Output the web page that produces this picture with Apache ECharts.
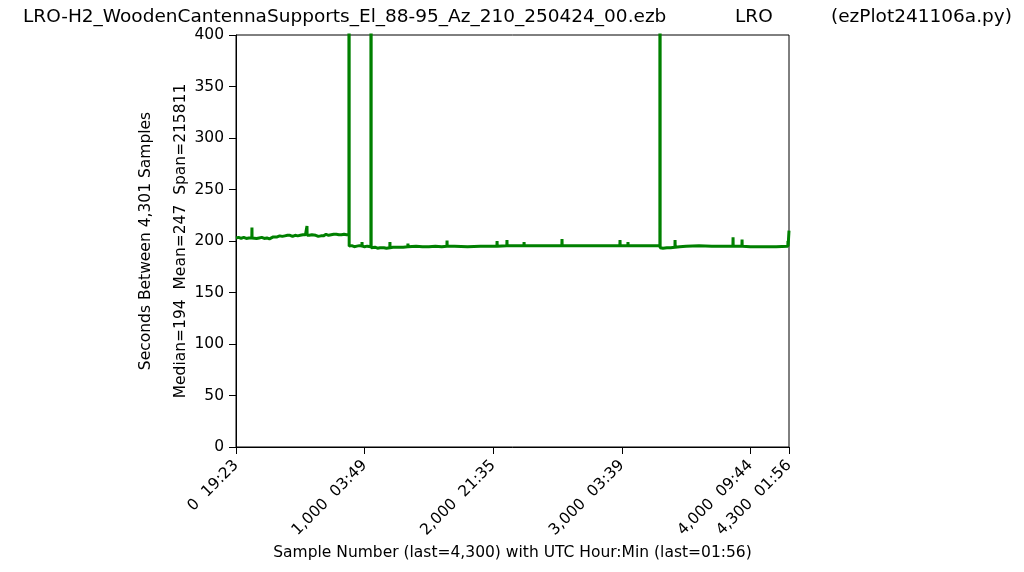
<!DOCTYPE html>
<html>
<head>
<meta charset="utf-8">
<script src="https://cdn.jsdelivr.net/npm/echarts@6/dist/echarts.min.js"></script>
<style>
html,body{margin:0;padding:0;background:#fff;}
#chart{width:1024px;height:572px;}
</style>
</head>
<body>
<div id="chart"></div>
<script>
// ---- data ----
const titleMain = 'LRO-H2_WoodenCantennaSupports_El_88-95_Az_210_250424_00.ezb';
const titleMid = 'LRO';
const titleRight = '(ezPlot241106a.py)';
const yAxisTitle = 'Seconds Between 4,301 Samples\nMedian=194  Mean=247  Span=215811';
const xAxisTitle = 'Sample Number (last=4,300) with UTC Hour:Min (last=01:56)';
const xTickValues = [0, 1000, 2000, 3000, 4000, 4300];
const xTickLabels = ['0  19:23', '1,000  03:49', '2,000  21:35', '3,000  03:39', '4,000  09:44', '4,300  01:56'];

const sampleNums = [
  0, 20, 40, 60, 80, 100, 110, 123, 124, 125, 140, 160, 180, 200, 220, 240, 260, 275, 290, 300, 320, 340, 360, 380, 400, 420, 440, 460, 480, 500, 520, 540, 551, 552, 553, 570, 590, 600, 620, 640, 660, 680, 700, 720, 740, 760, 780, 800, 820, 840, 860, 878,
  879, 880, 900, 920, 940, 960, 979, 980, 981, 1000, 1020, 1049,
  1050, 1051, 1060, 1080, 1100, 1120, 1150, 1170, 1196, 1197, 1198, 1220, 1250, 1300, 1336, 1337, 1338, 1400, 1450, 1500, 1550, 1600, 1640, 1641, 1642,
  1700, 1800, 1900, 2000, 2029, 2030, 2031, 2106, 2107, 2108, 2200, 2239, 2240, 2241, 2300, 2400, 2534, 2535, 2536,
  2600, 2700, 2800, 2900, 2985, 2986, 2987, 3047, 3048, 3049, 3100, 3200, 3296,
  3297, 3298, 3320, 3350, 3380, 3413, 3414, 3415, 3450, 3500, 3600, 3700, 3800, 3864, 3865, 3866, 3934, 3935, 3936,
  4000, 4100, 4200, 4291, 4292, 4293, 4299, 4300
];
const secondsVals = [
  203, 203.5, 202.5, 203.5, 202.5, 203, 203, 203, 213, 203, 203.5, 202.5, 203, 203.5, 202.5, 203, 202, 203.5, 204, 204.5, 204, 205, 204.5, 205, 205.5, 205.5, 204.5, 205.5, 205, 205.5, 206, 206, 205.5, 214.5, 205.5, 205.5, 206, 205, 205.5, 204.5, 205, 205, 206.5, 205.5, 206, 206.5, 206.5, 206, 206, 206.5, 206, 206,
  70000, 195, 195.5, 194.5, 195, 195.5, 195, 199, 195, 194.5, 195, 194.5,
  70000, 193.5, 193, 194, 193, 193.5, 193.5, 193, 193.5, 199, 193.5, 194, 194, 194, 194.5, 197.5, 194.5, 195, 194.5, 194.5, 195, 194.5, 195, 200.5, 195,
  195, 194.5, 195, 195, 195, 200, 195, 195.5, 201, 195.5, 195.5, 195.5, 199, 195.5, 195.5, 195.5, 195.5, 202, 195.5,
  195.5, 195.5, 195.5, 195.5, 195.5, 201, 195.5, 195.5, 199, 195.5, 195.5, 195.5, 195.5,
  70000, 193.5, 193, 193.5, 193.5, 194, 201, 194, 194.5, 195, 195.5, 195, 195, 195, 203.5, 195, 195, 201.5, 195,
  194.5, 194.5, 194.5, 195, 200, 195, 195, 210
];

const seriesData = sampleNums.map((s, i) => [s, secondsVals[i]]);

const FONT = 'DejaVu Sans';
const titleStyle = {fontFamily: FONT, fontSize: 18.5, fontWeight: 'normal', color: '#000'};
const chart = echarts.init(document.getElementById('chart'), null, {renderer: 'canvas'});
chart.setOption({
  animation: false,
  backgroundColor: '#fff',
  title: [
    {text: titleMain, left: 23, top: 8, padding: 0, textStyle: titleStyle},
    {text: titleMid, left: 735, top: 8, padding: 0, textStyle: titleStyle},
    {text: titleRight, left: 831, top: 8, padding: 0, textStyle: titleStyle}
  ],
  grid: {left: 236, right: 235, top: 35, bottom: 125, show: true, borderColor: '#000', borderWidth: 1, backgroundColor: 'transparent'},
  xAxis: {
    type: 'value', min: 0, max: 4300, interval: 1000,
    name: xAxisTitle, nameLocation: 'middle', nameGap: 98, nameMoveOverlap: false,
    nameTextStyle: {fontFamily: FONT, fontSize: 15.5, color: '#000'},
    axisLine: {show: true, lineStyle: {color: '#000', width: 1}},
    axisTick: {show: true, inside: false, length: 7, lineStyle: {color: '#000'}},
    splitLine: {show: false},
    axisLabel: {
      rotate: 45, margin: 16, fontFamily: FONT, fontSize: 15.5, color: '#000',
      showMinLabel: true, showMaxLabel: true,
      formatter: v => { const i = xTickValues.indexOf(v); return i >= 0 ? xTickLabels[i] : ''; }
    }
  },
  yAxis: {
    type: 'value', min: 0, max: 400, interval: 50,
    name: yAxisTitle, nameLocation: 'middle', nameGap: 38, nameRotate: 90, nameMoveOverlap: false,
    nameTextStyle: {fontFamily: FONT, fontSize: 15.5, color: '#000', lineHeight: 35},
    axisLine: {show: true, lineStyle: {color: '#000', width: 1}},
    axisTick: {show: true, inside: false, length: 7, lineStyle: {color: '#000'}},
    splitLine: {show: false},
    axisLabel: {margin: 12, fontFamily: FONT, fontSize: 15.5, color: '#000'}
  },
  series: [{
    type: 'line', data: seriesData, showSymbol: false, symbol: 'none', clip: true,
    lineStyle: {color: '#008000', width: 3}, itemStyle: {color: '#008000'}
  }]
});
</script>
</body>
</html>
